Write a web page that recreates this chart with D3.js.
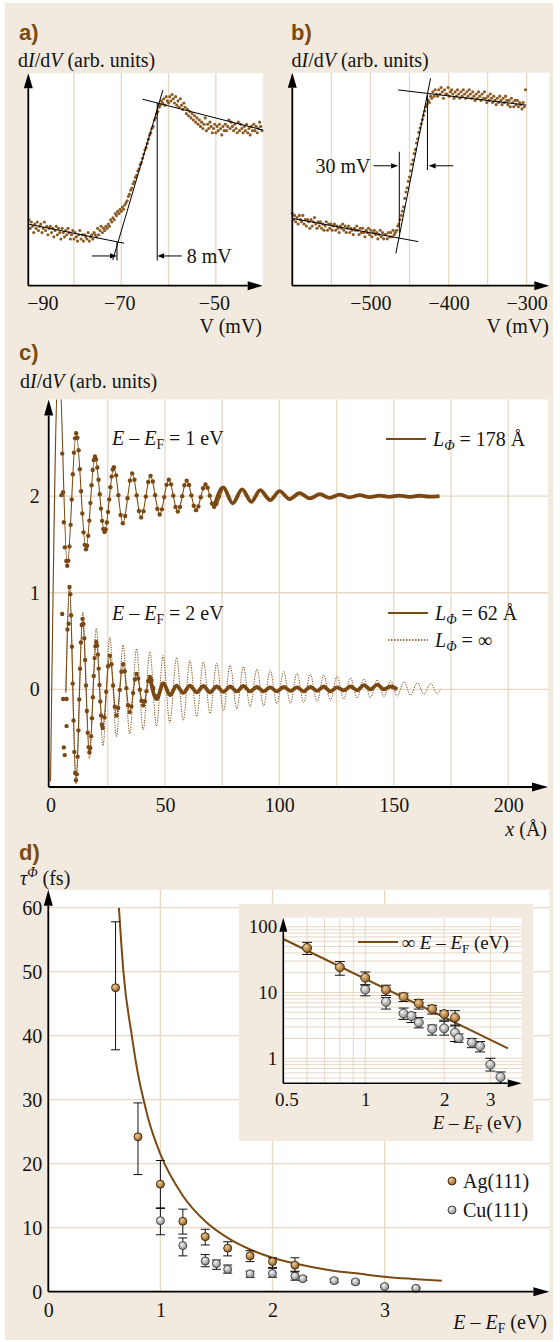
<!DOCTYPE html>
<html><head><meta charset="utf-8">
<script src="https://cdn.jsdelivr.net/npm/d3@7"></script>
<style>
body{margin:0;background:#fff}
svg text{font-family:"Liberation Serif","DejaVu Serif",serif}
</style></head>
<body><svg id="chart" width="560" height="1342"></svg>
<script>
// ================= DATA =================
// Panel a: dI/dV vs V (mV), sampled every 0.25 mV from -89.5 mV
const aStartV = -89.5, aStepV = 0.25;
const aSignal = [.31,.27,
.30,.28,.25,.29, .27,.30,.26,.28, .29,.25,.27,.30, .26,.28,.24,.27, .28,.25,.27,.23,
.26,.28,.24,.27, .25,.22,.27,.25, .23,.26,.24,.27, .25,.22,.24,.26, .22,.25,.23,.21,
.24,.26,.22,.24, .21,.24,.23,.22, .25,.21,.23,.24, .22,.25,.24,.23, .27,.24,.26,.28,
.25,.27,.26,.28, .27,.29,.28,.31, .30,.32,.31,.34, .33,.35,.34,.36, .35,.37,.36,.38,
.39,.40,.42,.43, .45,.46,.48,.49, .51,.52,.54,.55, .57,.58,.60,.62, .64,.65,.67,.69,
.71,.72,.74,.75, .78,.79,.81,.82, .84,.85,.87,.86, .88,.85,.89,.87, .86,.89,.87,.90,
.88,.86,.89,.85, .87,.84,.88,.85, .83,.86,.84,.81, .83,.80,.82,.79, .81,.78,.80,.77,
.79,.76,.78,.75, .77,.74,.76,.79, .73,.76,.74,.77, .75,.72,.74,.76, .72,.75,.73,.76,
.74,.71,.75,.73, .76,.73,.75,.78, .74,.77,.75,.73, .76,.74,.72,.77, .73,.76,.74,.72,
.75,.73,.76,.72, .74,.71,.75,.73, .76,.73,.75,.72, .74,.77,.75,.73];
const aFits = [[[-89.65,0.29],[-69.4,0.2]], [[-71.8,0.121],[-61.2,0.921]], [[-65.5,0.878],[-40.1,0.733]]];
const aMarkers = [[-70.9,0.205,0.118],[-62.4,0.862,0.118]];
const aArrows = [[-76.2,-70.9,0.14],[-57.2,-62.4,0.14]];
const aGridV = [-80,-70,-60,-50];
const aTickV = [-90,-70,-50];
const aNote = "8 mV";

// Panel b: dI/dV vs V (mV), sampled every 1.5 mV from -600 mV
const bStartV = -600, bStepV = 1.5;
const bSignal = [
.34,.31,.33,.30, .32,.29,.33,.31, .30,.33,.29,.31, .28,.31,.30,.27, .31,.28,.30,.32,
.29,.27,.30,.28, .30,.27,.29,.26, .28,.30,.26,.29, .27,.29,.26,.28, .29,.26,.28,.27,
.25,.28,.27,.29, .26,.28,.25,.27, .28,.25,.27,.26, .24,.27,.26,.28, .26,.24,.27,.25,
.27,.25,.23,.26, .25,.27,.24,.26, .23,.25,.26,.24, .25,.22,.24,.26, .23,.25,.22,.24,
.24,.22,.25,.23, .25,.23,.26,.24, .25,.26,.28,.29, .31,.33,.35,.37, .41,.44,.46,.49,
.51,.54,.57,.59, .62,.64,.67,.69, .72,.74,.76,.78, .80,.82,.84,.85, .87,.86,.89,.88,
.91,.89,.92,.90, .89,.92,.90,.93, .91,.88,.92,.90, .90,.93,.89,.91, .92,.90,.88,.91,
.89,.92,.90,.88, .91,.89,.92,.90, .88,.91,.89,.92, .90,.88,.91,.89, .87,.90,.88,.91,
.89,.87,.90,.88, .91,.88,.86,.89, .87,.90,.88,.86, .89,.87,.85,.88, .86,.89,.87,.85,
.88,.86,.89,.87, .85,.87,.84,.88, .86,.84,.87,.85, .87,.84,.86,.85, .83,.86,.84,.92];
const bFits = [[[-600,0.316],[-438.8,0.207]], [[-467.4,0.152],[-423.0,0.974]], [[-464.5,0.919],[-300.5,0.848]]];
const bMarkers = [[-463,0.629,0.246],[-427,0.895,0.543]];
const bArrows = [[-496,-464.5,0.563],[-394,-425.5,0.563]];
const bGridV = [-550,-500,-450,-400,-350,-300];
const bTickV = [-500,-400,-300];
const bNote = "30 mV";

// Panel c: dI/dV vs x (Å)
const cGridX = [25,50,75,100,125,150,175,200];
const cGridY = [0,1,2];
const cTickX = [0,50,100,150,200];
const cTickY = [0,1,2];
// E - EF = 1 eV : fit (L = 178 Å), measured points, dense measured trace
const c1Fit = [[0,-0.95],[3.6,3.45],[7.3,1.28],[11.2,2.65],[15.5,1.45],[19.4,2.41],[23.6,1.63],[27.7,2.30],[31.6,1.72],[35.7,2.235],[39.6,1.78],[43.7,2.21],[47.7,1.81],[51.7,2.17],[55.6,1.84],[59.5,2.16],[63.6,1.855],[67.7,2.12],[71.5,1.89],[75.5,2.09]];
const c1Dots = [[4.8,2.01],[5.1,2.44],[5.5,2.04],[5.8,1.73],[6.25,1.47],[6.9,1.33],
[7.3,1.28],[7.79,1.332],[8.28,1.48],[8.76,1.703],[9.25,1.965],[9.74,2.227],[10.23,2.45],[10.71,2.598],
[11.2,2.65],[11.74,2.604],[12.28,2.475],[12.81,2.279],[13.35,2.05],[13.89,1.821],[14.43,1.625],[14.96,1.496],
[15.5,1.45],[15.99,1.486],[16.48,1.59],[16.96,1.747],[17.45,1.93],[17.94,2.113],[18.43,2.27],[18.91,2.374],
[19.4,2.41],[19.93,2.38],[20.45,2.296],[20.98,2.169],[21.5,2.02],[22.03,1.871],[22.55,1.744],[23.08,1.66],
[23.6,1.63],[24.11,1.655],[24.63,1.728],[25.14,1.837],[25.65,1.965],[26.16,2.093],[26.68,2.202],[27.19,2.275],
[27.7,2.30],[28.68,2.215],[29.65,2.01],[30.63,1.805],
[31.6,1.72],[32.63,1.795],[33.65,1.978],[34.68,2.16],
[35.7,2.235],[36.68,2.169],[37.65,2.008],[38.63,1.846],
[39.6,1.78],[40.63,1.843],[41.65,1.995],[42.68,2.147],
[43.7,2.21],[44.7,2.152],[45.7,2.01],[46.7,1.868],
[47.7,1.81],[48.7,1.863],[49.7,1.99],[50.7,2.117],
[51.7,2.17],[52.68,2.122],[53.65,2.005],[54.63,1.888],
[55.6,1.84],[56.58,1.887],[57.55,2.0],[58.53,2.113],
[59.5,2.16],[60.53,2.115],[61.55,2.008],[62.58,1.9],
[63.6,1.855],[64.63,1.894],[65.65,1.988],[66.68,2.081],
[67.7,2.12],[68.65,2.086],[69.6,2.005],[70.55,1.924],
[71.5,1.89],[72.5,1.921],[73.5,1.995],[74.5,2.069]];
const c1Dense = [[71.5,1.89],[75.5,2.09],[79.6,1.925],[83.7,2.07],[87.8,1.941],[91.6,2.062],[96.0,1.959],[100.1,2.052],[104.5,1.969],[108.8,2.031],[113.3,1.976],[117.7,2.02],[122.0,1.982],[126.3,2.015],[130.7,1.988],[135.0,2.01],[139.4,1.99],[143.7,2.006],[148.0,1.992],[152.4,2.006],[156.7,1.992],[161.1,2.004],[165.5,1.994],[170.0,2.0]];
// E - EF = 2 eV : fit (L = 62 Å), measured points, dense trace, L = infinity
const c2Fit = [[6.7,-0.03],[8.3,1.06],[11.1,-0.94],[14.0,0.73],[17.0,-0.65],[20.0,0.49],[22.8,-0.40],[25.9,0.35],[28.8,-0.27],[31.7,0.26],[34.6,-0.235],[37.6,0.16],[40.5,-0.165],[43.4,0.13],[46.4,-0.10],[49.3,0.065],[52.2,-0.06]];
const c2Dots = [[5.1,0.78],[5.5,-0.1],[7.0,-0.1],[7.0,-0.38],[5.8,-0.6],[6.2,-0.68],[7.4,0.62],[7.9,0.68],
[8.3,1.06],[8.65,0.984],[9.0,0.768],[9.35,0.442],[9.7,0.06],[10.05,-0.322],[10.4,-0.648],[10.75,-0.864],
[11.1,-0.94],[11.46,-0.877],[11.83,-0.696],[12.19,-0.424],[12.55,-0.105],[12.91,0.214],[13.28,0.486],[13.64,0.667],
[14.0,0.73],[14.38,0.678],[14.75,0.529],[15.13,0.304],[15.5,0.04],[15.88,-0.224],[16.25,-0.448],[16.63,-0.597],
[17.0,-0.65],[17.38,-0.607],[17.75,-0.484],[18.13,-0.298],[18.5,-0.08],[18.88,0.138],[19.25,0.324],[19.63,0.447],
[20.0,0.49],[20.35,0.456],[20.7,0.36],[21.05,0.215],[21.4,0.045],[21.75,-0.125],[22.1,-0.27],[22.45,-0.366],
[22.8,-0.40],[23.58,-0.29],[24.35,-0.025],[25.13,0.24],
[25.9,0.35],[26.63,0.26],[27.35,0.04],[28.08,-0.18],
[28.8,-0.27],[29.53,-0.193],[30.25,-0.005],[30.98,0.183],
[31.7,0.26],[32.43,0.188],[33.15,0.013],[33.88,-0.163],
[34.6,-0.235],[35.35,-0.177],[36.1,-0.038],[36.85,0.102],
[37.6,0.16],[38.33,0.113],[39.05,-0.003],[39.78,-0.118],
[40.5,-0.165],[41.23,-0.122],[41.95,-0.018],[42.68,0.087],
[43.4,0.13],[44.15,0.096],[44.9,0.015],[45.65,-0.066]];
const c2Dense = [[43.4,0.13],[46.4,-0.10],[49.3,0.065],[52.2,-0.06],[55.1,0.04],[58.0,-0.035],[60.9,0.04],[63.9,-0.03],[66.8,0.035],[69.7,-0.03],[72.6,0.03],[75.6,-0.025],[78.5,0.03],[81.4,-0.02],[84.3,0.035],[87.2,-0.02],[90.2,0.025],[93.1,-0.02],[96.0,0.02],[98.9,-0.02],[101.9,0.025],[104.8,-0.015],[107.7,0.02],[110.6,-0.02],[113.5,0.025],[116.5,-0.015],[119.4,0.03],[122.3,-0.02],[125.2,0.02],[128.1,-0.01],[131.1,0.03],[134.0,-0.01],[136.9,0.045],[139.8,0.0],[142.8,0.05],[145.7,0.0],[148.6,0.03],[151.5,0.0]];
const c2Inf = [[6.7,-0.03],[8.3,1.08],[11.2,-0.98],[14.1,0.8],[17.0,-0.72],[20.0,0.63],[22.9,-0.58],[25.9,0.54],[28.8,-0.49],[31.7,0.46],[34.6,-0.46],[37.6,0.42],[40.5,-0.42],[43.4,0.39],[46.3,-0.38],[49.2,0.35],[52.1,-0.345],[55.1,0.33],[58.0,-0.32],[60.9,0.30],[63.9,-0.28],[66.8,0.285],[69.7,-0.25],[72.6,0.27],[75.6,-0.22],[78.5,0.25],[81.4,-0.2],[84.3,0.235],[87.2,-0.18],[90.2,0.21],[93.1,-0.17],[96.0,0.2],[98.9,-0.15],[101.9,0.185],[104.8,-0.145],[107.7,0.17],[110.6,-0.135],[113.5,0.16],[116.5,-0.125],[119.4,0.15],[122.3,-0.115],[125.2,0.135],[128.1,-0.1],[131.1,0.12],[134.0,-0.09],[136.9,0.11],[139.8,-0.085],[142.8,0.1],[145.7,-0.075],[148.6,0.09],[151.5,-0.07],[154.4,0.08],[157.4,-0.06],[160.3,0.07],[163.2,-0.05],[166.1,0.06],[169.0,-0.045],[170.3,0.0]];

// Panel d: lifetime tau (fs) vs E - EF (eV)
const dGridX = [1,2,3];
const dGridY = [10,20,30,40,50,60];
const dTickX = [0,1,2,3];
const dTickY = [0,10,20,30,40,50,60];
const agE   = [0.6,0.8,1.0,1.2,1.4,1.6,1.8,2.0,2.2];
const agTau = [47.5,24.2,16.8,11.0,8.6,6.8,5.6,4.7,4.15];
const agLo  = [37.8,18.3,13.0,9.0,7.3,5.6,4.7,3.8,3.1];
const agHi  = [57.8,29.5,20.5,12.9,9.75,7.8,6.4,5.3,5.3];
const cuE   = [1.0,1.2,1.4,1.5,1.6,1.8,2.0,2.2,2.27,2.55,2.74,3.0,3.28];
const cuTau = [11.1,7.2,4.8,4.4,3.5,2.8,2.85,2.45,2.03,1.73,1.53,0.8,0.52];
const cuLo  = [8.9,5.6,3.9,3.5,2.9,2.25,2.25,1.8,1.75,1.45,1.25,0.64,0.42];
const cuHi  = [13.1,8.4,5.8,4.95,4.17,3.2,3.65,3.2,2.35,2.0,1.8,1.0,0.62];
const dCurve = [[0.63,60],[0.67,50],[0.745,40],[0.8,34],[0.85,30],[0.9,26.5],[1.0,21.5],[1.2,15],[1.4,11],[1.6,8.4],[1.8,6.6],[2.0,5.3],[2.2,4.4],[2.5,3.4],[2.8,2.75],[3.0,2.35],[3.25,2.0],[3.51,1.7]];
const insetLine = [[0.487,65],[3.5,1.42]];
const insetGridX = [0.6,0.7,0.8,0.9,1,2,3];
const insetGridY = [0.5,0.6,0.7,0.8,0.9,1,2,3,4,5,6,7,8,9,10,20,30,40,50,60,70,80,90,100];
const insetTickX = [0.5,1,2,3];
const insetTickY = [1,10,100];

// ================= STYLE =================
const BEIGE = '#f2eadf', GRID = '#e7d7c3', BROWN = '#7b4a12', DOTC = '#7a4913', SCAT = '#8b5a22';
const TXT = '#161310';
const FS = 20, FSI = 19;
const svg = d3.select('#chart');
svg.append('rect').attr('x',5).attr('y',3).attr('width',548).attr('height',1337).attr('fill',BEIGE);

const defs = svg.append('defs');
function grad(id, c0, c1){
  const g = defs.append('radialGradient').attr('id',id).attr('cx','38%').attr('cy','35%').attr('r','70%');
  g.append('stop').attr('offset','0%').attr('stop-color',c0);
  g.append('stop').attr('offset','100%').attr('stop-color',c1);
}
grad('gAg','#f0cd95','#8a5418');
grad('gCu','#f4f4f4','#858585');

// ================= HELPERS =================
function arrowLine(g, x1, y1, x2, y2, len, hw, sw){
  const a = Math.atan2(y2-y1, x2-x1);
  const bx = x2 - len*Math.cos(a), by = y2 - len*Math.sin(a);
  g.append('line').attr('x1',x1).attr('y1',y1).attr('x2',bx).attr('y2',by)
    .attr('stroke','#000').attr('stroke-width',sw);
  const px = -Math.sin(a)*hw, py = Math.cos(a)*hw;
  g.append('path').attr('d',`M${x2},${y2}L${bx+px},${by+py}L${bx-px},${by-py}Z`).attr('fill','#000');
}
function rich(g, x, y, parts, size, anchor){
  const t = g.append('text').attr('x',x).attr('y',y).attr('font-size',size)
    .attr('text-anchor',anchor||'start').attr('fill',TXT);
  let shift = 0;
  parts.forEach(([txt, st])=>{
    st = st || '';
    const ts = t.append('tspan').text(txt);
    let target = 0, fs = null;
    if (st.includes('sub')) { target = size*0.22; fs = size*0.68; }
    if (st.includes('sup')) { target = -size*0.4; fs = size*0.68; }
    if (target - shift !== 0) ts.attr('dy', target - shift);
    shift = target;
    if (fs) ts.attr('font-size', fs);
    if (st.startsWith('i')) ts.attr('font-style','italic');
  });
  return t;
}
function panelLabel(x, y, s){
  svg.append('text').attr('x',x).attr('y',y).text(s).attr('font-size',22).attr('font-weight','bold')
    .attr('fill',BROWN).style('font-family','"Liberation Sans Narrow","Liberation Sans",Arial,sans-serif');
}
function tickLabels(g, gen, tx, ty, size){
  const a = g.append('g').attr('transform',`translate(${tx},${ty})`).call(gen);
  a.select('.domain').remove();
  a.selectAll('.tick line').remove();
  a.attr('font-family',null).attr('font-size',null);
  a.selectAll('text').attr('font-size',size).attr('fill',TXT).style('font-family','"Liberation Serif",serif');
  return a;
}
function plotBox(g, x, y){
  const [x0,x1] = x.range(), [y0,y1] = y.range();
  g.append('rect').attr('x',x0).attr('y',y1).attr('width',x1-x0).attr('height',y0-y1).attr('fill','#fff');
}
function axesArrows(g, x, y, len, hw, sw){
  const [x0,x1] = x.range(), [y0,y1] = y.range();
  arrowLine(g, x0, y0, x1, y0, len, hw, sw);
  arrowLine(g, x0, y0, x0, y1, len, hw, sw);
}
function dIdVTitle(x, y){
  rich(svg, x, y, [['d'],['I','i'],['/d'],['V','i'],[' (arb. units)']], FS);
}

// ================= PANELS a & b =================
function stepPanel(opt){
  const g = svg.append('g');
  const x = d3.scaleLinear(opt.xd, opt.xr), y = d3.scaleLinear([0,1], opt.yr);
  plotBox(g, x, y);
  g.selectAll(null).data(opt.grid).join('line')
    .attr('x1',d=>x(d)).attr('x2',d=>x(d)).attr('y1',y.range()[0]).attr('y2',y.range()[1])
    .attr('stroke',GRID).attr('stroke-width',1.3);
  const pts = opt.signal.map((v,i)=>[opt.start + i*opt.step, v]);
  g.selectAll(null).data(pts).join('circle')
    .attr('cx',d=>x(d[0])).attr('cy',d=>y(d[1])).attr('r',1.55).attr('fill',SCAT);
  g.selectAll(null).data(opt.fits).join('line')
    .attr('x1',d=>x(d[0][0])).attr('y1',d=>y(d[0][1])).attr('x2',d=>x(d[1][0])).attr('y2',d=>y(d[1][1]))
    .attr('stroke','#000').attr('stroke-width',1);
  g.selectAll(null).data(opt.markers).join('line')
    .attr('x1',d=>x(d[0])).attr('x2',d=>x(d[0])).attr('y1',d=>y(d[1])).attr('y2',d=>y(d[2]))
    .attr('stroke','#000').attr('stroke-width',1);
  opt.arrows.forEach(a=>arrowLine(g, x(a[0]), y(a[2]), x(a[1]), y(a[2]), 7, 2.6, 1));
  axesArrows(g, x, y, 15, 4.5, 1.8);
  const ax = tickLabels(g, d3.axisBottom(x).tickValues(opt.ticks).tickSize(0).tickPadding(10.5).tickFormat(d3.format('d')),
    0, y.range()[0], FS);
  return {g, x, y, ax};
}
const pa = stepPanel({xd:[-89.65,-40.1], xr:[28.3,262.7], yr:[285.7,73.3], grid:aGridV, signal:aSignal,
  start:aStartV, step:aStepV, fits:aFits, markers:aMarkers, arrows:aArrows, ticks:aTickV});
pa.ax.selectAll('.tick text').filter(d=>d===-90).attr('text-anchor','start').attr('dx',0);
pa.ax.selectAll('.tick text').filter(d=>d!==-90).attr('dx',-2);
pa.g.append('text').attr('x',pa.x(aArrows[1][0])+5).attr('y',pa.y(aArrows[1][2])+7)
  .attr('font-size',FS).attr('fill',TXT).text(aNote);
rich(svg, 262, 333, [['V (mV)']], FS, 'end');

const pb = stepPanel({xd:[-600,-271], xr:[292.3,549.3], yr:[285.7,72.7], grid:bGridV, signal:bSignal,
  start:bStartV, step:bStepV, fits:bFits, markers:bMarkers, arrows:bArrows, ticks:bTickV});
pb.g.append('text').attr('x',pb.x(bArrows[0][0])-3).attr('y',pb.y(bArrows[0][2])+7.5)
  .attr('font-size',FS).attr('fill',TXT).attr('text-anchor','end').text(bNote);
rich(svg, 549, 333, [['V (mV)']], FS, 'end');

panelLabel(19, 40, 'a)');
panelLabel(291, 40, 'b)');
dIdVTitle(18, 66.5);
dIdVTitle(291.5, 66.5);

// ================= PANEL c =================
(function(){
  const g = svg.append('g');
  const x = d3.scaleLinear([-0.8, 217.4], [48.7, 548]);
  const y = d3.scaleLinear([-1.01, 3.0], [787, 399.5]);
  plotBox(g, x, y);
  g.selectAll(null).data(cGridX).join('line')
    .attr('x1',d=>x(d)).attr('x2',d=>x(d)).attr('y1',y.range()[0]).attr('y2',y.range()[1])
    .attr('stroke',GRID).attr('stroke-width',1.3);
  g.selectAll(null).data(cGridY).join('line')
    .attr('y1',d=>y(d)).attr('y2',d=>y(d)).attr('x1',x.range()[0]).attr('x2',x.range()[1])
    .attr('stroke',GRID).attr('stroke-width',1.3);
  defs.append('clipPath').attr('id','clipC').append('rect')
    .attr('x',x.range()[0]).attr('y',y.range()[1]).attr('width',x.range()[1]-x.range()[0]).attr('height',y.range()[0]-y.range()[1]);
  const s = g.append('g').attr('clip-path','url(#clipC)');
  const line = d3.line().x(d=>x(d[0])).y(d=>y(d[1])).curve(d3.curveMonotoneX);
  s.append('path').attr('d',line(c2Inf)).attr('fill','none').attr('stroke',BROWN).attr('stroke-width',1)
    .attr('stroke-dasharray','1.2,1.3');
  s.append('path').attr('d',line(c1Fit)).attr('fill','none').attr('stroke',BROWN).attr('stroke-width',1.1);
  s.append('path').attr('d',line(c2Fit)).attr('fill','none').attr('stroke',BROWN).attr('stroke-width',1.1);
  s.append('path').attr('d',line(c1Dense)).attr('fill','none').attr('stroke',DOTC).attr('stroke-width',3.8).attr('stroke-linejoin','round');
  s.append('path').attr('d',line(c2Dense)).attr('fill','none').attr('stroke',DOTC).attr('stroke-width',3.8).attr('stroke-linejoin','round');
  s.selectAll(null).data(c1Dots.concat(c2Dots)).join('circle')
    .attr('cx',d=>x(d[0])).attr('cy',d=>y(d[1])).attr('r',2.2).attr('fill',DOTC);
  axesArrows(g, x, y, 16, 4.5, 1.8);
  tickLabels(g, d3.axisBottom(x).tickValues(cTickX).tickSize(0).tickPadding(11).tickFormat(d3.format('d')), 0, y.range()[0], FS);
  tickLabels(g, d3.axisLeft(y).tickValues(cTickY).tickSize(0).tickPadding(9).tickFormat(d3.format('d')), x.range()[0], 0, FS);
  // annotations and legend
  rich(g, 112, 445, [['E','i'],[' – '],['E','i'],['F','sub'],[' = 1 eV']], FS);
  rich(g, 112, 620, [['E','i'],[' – '],['E','i'],['F','sub'],[' = 2 eV']], FS);
  g.append('line').attr('x1',386).attr('x2',426).attr('y1',439).attr('y2',439).attr('stroke',BROWN).attr('stroke-width',2.2);
  rich(g, 433, 446, [['L','i'],['Φ','isub'],[' = 178 Å']], FS);
  g.append('line').attr('x1',388).attr('x2',428).attr('y1',613).attr('y2',613).attr('stroke',BROWN).attr('stroke-width',2.2);
  rich(g, 435, 620, [['L','i'],['Φ','isub'],[' = 62 Å']], FS);
  g.append('line').attr('x1',388).attr('x2',428).attr('y1',640).attr('y2',640).attr('stroke',BROWN).attr('stroke-width',1.6)
    .attr('stroke-dasharray','1.5,1.5');
  rich(g, 435, 647, [['L','i'],['Φ','isub'],[' = ∞']], FS);
  rich(svg, 547, 836, [['x','i'],[' (Å)']], FS, 'end');
})();
panelLabel(19, 360, 'c)');
dIdVTitle(20, 388);

// ================= PANEL d =================
function errMarkers(g, x, y, E, T, lo, hi, r, cap, fill, stroke){
  const idx = E.map((e,i)=>i);
  g.selectAll(null).data(idx).join('line')
    .attr('x1',i=>x(E[i])).attr('x2',i=>x(E[i])).attr('y1',i=>y(lo[i])).attr('y2',i=>y(hi[i]))
    .attr('stroke','#111').attr('stroke-width',1);
  [lo, hi].forEach(arr=>{
    g.selectAll(null).data(idx).join('line')
      .attr('x1',i=>x(E[i])-cap).attr('x2',i=>x(E[i])+cap).attr('y1',i=>y(arr[i])).attr('y2',i=>y(arr[i]))
      .attr('stroke','#111').attr('stroke-width',1);
  });
  g.selectAll(null).data(idx).join('circle')
    .attr('cx',i=>x(E[i])).attr('cy',i=>y(T[i])).attr('r',r)
    .attr('fill',fill).attr('stroke',stroke).attr('stroke-width',0.9);
}
(function(){
  const g = svg.append('g');
  const x = d3.scaleLinear([0, 4.47], [48.3, 549.4]);
  const y = d3.scaleLinear([0, 62.8], [1291.7, 889.8]);
  plotBox(g, x, y);
  g.selectAll(null).data(dGridX).join('line')
    .attr('x1',d=>x(d)).attr('x2',d=>x(d)).attr('y1',y.range()[0]).attr('y2',y.range()[1])
    .attr('stroke',GRID).attr('stroke-width',1.3);
  g.selectAll(null).data(dGridY).join('line')
    .attr('y1',d=>y(d)).attr('y2',d=>y(d)).attr('x1',x.range()[0]).attr('x2',x.range()[1])
    .attr('stroke',GRID).attr('stroke-width',1.3);
  const line = d3.line().x(d=>x(d[0])).y(d=>y(d[1])).curve(d3.curveMonotoneX);
  g.append('path').attr('d',line(dCurve)).attr('fill','none').attr('stroke',BROWN).attr('stroke-width',2);
  errMarkers(g, x, y, cuE, cuTau, cuLo, cuHi, 4, 4.5, 'url(#gCu)', '#3a3a3a');
  errMarkers(g, x, y, agE, agTau, agLo, agHi, 4, 4.5, 'url(#gAg)', '#3a2408');
  axesArrows(g, x, y, 16, 4.5, 1.8);
  tickLabels(g, d3.axisBottom(x).tickValues(dTickX).tickSize(0).tickPadding(11.5).tickFormat(d3.format('d')), 0, y.range()[0], FS);
  tickLabels(g, d3.axisLeft(y).tickValues(dTickY).tickSize(0).tickPadding(6).tickFormat(d3.format('d')), x.range()[0], 0, FS);
  rich(svg, 547, 1329, [['E','i'],[' – '],['E','i'],['F','sub'],[' (eV)']], FS, 'end');
  // legend
  g.append('circle').attr('cx',452).attr('cy',1181).attr('r',4).attr('fill','url(#gAg)').attr('stroke','#3a2408').attr('stroke-width',0.9);
  g.append('circle').attr('cx',452).attr('cy',1210).attr('r',4).attr('fill','url(#gCu)').attr('stroke','#3a3a3a').attr('stroke-width',0.9);
  rich(g, 463, 1188, [['Ag(111)']], FS);
  rich(g, 463, 1217, [['Cu(111)']], FS);

  // inset
  const ig = svg.append('g');
  ig.append('rect').attr('x',239).attr('y',904).attr('width',294).attr('height',237).attr('fill',BEIGE);
  const xi = d3.scaleLog([0.487, 3.95], [283.3, 521.7]);
  const yi = d3.scaleLog([0.417, 137], [1083.3, 917.7]);
  plotBox(ig, xi, yi);
  ig.selectAll(null).data(insetGridX).join('line')
    .attr('x1',d=>xi(d)).attr('x2',d=>xi(d)).attr('y1',yi.range()[0]).attr('y2',yi.range()[1])
    .attr('stroke',GRID).attr('stroke-width',1);
  ig.selectAll(null).data(insetGridY).join('line')
    .attr('y1',d=>yi(d)).attr('y2',d=>yi(d)).attr('x1',xi.range()[0]).attr('x2',xi.range()[1])
    .attr('stroke',GRID).attr('stroke-width',1);
  const iline = d3.line().x(d=>xi(d[0])).y(d=>yi(d[1]));
  ig.append('path').attr('d',iline(insetLine)).attr('fill','none').attr('stroke',BROWN).attr('stroke-width',2);
  errMarkers(ig, xi, yi, cuE, cuTau, cuLo, cuHi, 4.5, 5, 'url(#gCu)', '#3a3a3a');
  errMarkers(ig, xi, yi, agE, agTau, agLo, agHi, 4.5, 5, 'url(#gAg)', '#3a2408');
  axesArrows(ig, xi, yi, 14, 4, 1.6);
  tickLabels(ig, d3.axisBottom(xi).tickValues(insetTickX).tickSize(0).tickPadding(9).tickFormat(d=>d===0.5?'0.5':d3.format('d')(d)), 0, yi.range()[0], FSI);
  tickLabels(ig, d3.axisLeft(yi).tickValues(insetTickY).tickSize(0).tickPadding(6).tickFormat(d3.format('d')), xi.range()[0], 0, FSI);
  ig.append('line').attr('x1',358).attr('x2',398).attr('y1',942).attr('y2',942).attr('stroke',BROWN).attr('stroke-width',2.2);
  rich(ig, 401.5, 948.5, [['∞ '],['E','i'],[' – '],['E','i'],['F','sub'],[' (eV)']], FSI);
  rich(ig, 521.7, 1128.5, [['E','i'],[' – '],['E','i'],['F','sub'],[' (eV)']], FSI, 'end');
})();
panelLabel(19, 860, 'd)');
rich(svg, 20, 885, [['τ','i'],['Φ','isup'],[' (fs)']], FS);
</script></body></html>
